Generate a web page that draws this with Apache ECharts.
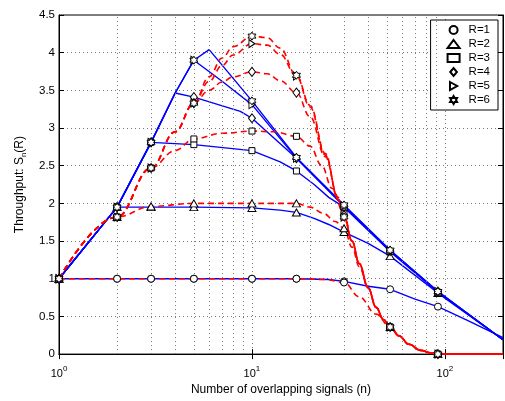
<!DOCTYPE html>
<html><head><meta charset="utf-8">
<script src="https://cdn.jsdelivr.net/npm/echarts@6/dist/echarts.min.js"></script>
<style>html,body{margin:0;padding:0;background:#fff}#c{width:505px;height:401px}</style>
</head><body><div id="c"></div>
<script>
// ---- data ----
const seriesNames = ['R=1','R=2','R=3','R=4','R=5','R=6'];
const markerN = [1,2,3,5,10,17,30,52,92];
const minorXTicks = [2,3,4,5,6,7,8,9,20,30,40,50,60,70,80,90];

const blueR1 = [[1,1],[2,1],[3,1],[5,1],[10,1],[17,1],[25,0.99],[30,0.965],[40,0.90],[52,0.86],[70,0.73],[92,0.63],[130,0.45],[200,0.22]];
const blueR2 = [[1,1],[2,1.95],[3,1.95],[5,1.95],[10,1.94],[14,1.91],[17,1.88],[21,1.80],[25,1.72],[30,1.62],[40,1.47],[52,1.30],[92,0.81],[200,0.19]];
const blueR3 = [[1,1],[2,1.95],[3,2.81],[5,2.78],[10,2.70],[14,2.55],[17,2.43],[21,2.25],[25,2.08],[30,1.95],[52,1.36],[92,0.82],[200,0.19]];
const blueR4 = [[1,1],[2,1.95],[3,2.81],[4,3.465],[5,3.41],[8.7,3.22],[10,3.13],[17,2.60],[30,1.96],[52,1.37],[92,0.83],[200,0.19]];
const blueR5 = [[1,1],[2,1.95],[3,2.81],[4,3.465],[5,3.90],[7,3.62],[10,3.31],[17,2.60],[30,1.97],[52,1.37],[92,0.83],[200,0.19]];
const blueR6 = [[1,1],[2,1.95],[3,2.81],[4,3.465],[5,3.90],[6,4.04],[10,3.36],[17,2.61],[30,1.98],[52,1.38],[92,0.83],[200,0.19]];

const redR1 = [[1,1],[2,1],[3,1],[5,1],[10,1],[17,1],[24,0.99],[30,0.95],[36,0.76],[44,0.53],[52,0.36],[58,0.24],[65,0.13],[75,0.05],[85,0.015],[92,0],[200,0]];
const redR2 = [[1,1],[2,1.82],[3,1.96],[5,2.0],[10,2.0],[17,2.0],[20,1.95],[23.4,1.87],[27,1.76],[30,1.67],[33,1.42],[36,1.16],[40,0.88],[44,0.62],[48,0.46],[52,0.36],[58,0.24],[65,0.13],[75,0.05],[85,0.015],[92,0],[200,0]];
const redR3 = [[1,1],[2,1.82],[3,2.47],[4,2.7],[5,2.855],[7,2.93],[10,2.96],[13,2.95],[17,2.89],[20,2.76],[23,2.5],[26,2.2],[30,1.86],[33,1.5],[36,1.2],[40,0.88],[44,0.62],[48,0.46],[52,0.36],[58,0.24],[65,0.13],[75,0.05],[85,0.015],[92,0],[200,0]];
const redR4 = [[1,1],[2,1.82],[3,2.47],[4,2.95],[5,3.33],[6,3.5],[7,3.61],[8,3.68],[10,3.745],[12,3.72],[14,3.63],[17,3.47],[20,3.15],[24,2.62],[28,2.08],[30,1.84],[33,1.5],[36,1.2],[40,0.88],[44,0.62],[48,0.46],[52,0.36],[58,0.24],[65,0.13],[75,0.05],[85,0.015],[92,0],[200,0]];
const redR5 = [[1,1],[2,1.82],[3,2.47],[4,2.95],[5,3.33],[6,3.62],[7,3.83],[8,3.97],[10,4.12],[12,4.1],[14,3.98],[17,3.69],[20,3.28],[24,2.64],[28,2.05],[30,1.82],[33,1.5],[36,1.2],[40,0.88],[44,0.62],[48,0.46],[52,0.36],[58,0.24],[65,0.13],[75,0.05],[85,0.015],[92,0],[200,0]];
const redR6 = [[1,1],[2,1.82],[3,2.47],[4,2.95],[5,3.33],[6,3.68],[7,3.93],[8,4.08],[10,4.22],[12,4.2],[14,4.06],[17,3.70],[20,3.30],[24,2.66],[28,2.05],[30,1.82],[33,1.5],[36,1.2],[40,0.88],[44,0.62],[48,0.46],[52,0.36],[58,0.24],[65,0.13],[75,0.05],[85,0.015],[92,0],[200,0]];

const blueCurves = [blueR1,blueR2,blueR3,blueR4,blueR5,blueR6];
const redCurves = [redR1,redR2,redR3,redR4,redR5,redR6];

// ---- styling ----
function hexagramPath(){
  const pts=[];
  for(let k=0;k<12;k++){
    const a=Math.PI/2 + k*Math.PI/6;
    const r=(k%2===0)?10:5.77;
    pts.push((10+r*Math.cos(a)).toFixed(2)+','+(10-r*Math.sin(a)).toFixed(2));
  }
  return 'path://M'+pts.join(' L')+' Z';
}
const symbols = [
  {s:'circle', size:7},
  {s:'triangle', size:[8,7]},
  {s:'rect', size:6},
  {s:'path://M0,6 L5,0 L10,6 L5,12 Z', size:[7,9]},
  {s:'path://M0,0 L9,5 L0,10 Z', size:[6,8]},
  {s:hexagramPath(), size:8}
];
const FONT = 'Liberation Sans, Arial, sans-serif';
const gridDot = {color:'#777', type:[1,3], width:1};

const series = [];
blueCurves.forEach(d=>series.push({type:'line', data:d, symbol:'none', silent:true,
  lineStyle:{color:'#0000ff', width:1.4}, z:2}));
redCurves.forEach(d=>series.push({type:'line', data:d, symbol:'none', silent:true, smooth:0.4, smoothMonotone:'x',
  lineStyle:{color:'#ff0000', width:1.6, type:[6,4]}, z:3}));
// minor grid lines of the log axis
series.push({type:'line', data:[], symbol:'none', silent:true,
  markLine:{silent:true, symbol:'none', label:{show:false}, lineStyle:gridDot, animation:false,
    data:minorXTicks.map(v=>({xAxis:v}))}});
// markers (on both models) per R
seriesNames.forEach((name,i)=>{
  const pts=[];
  [blueCurves[i],redCurves[i]].forEach(c=>c.forEach(p=>{ if(markerN.indexOf(p[0])>=0) pts.push(p); }));
  series.push({type:'scatter', name:name, data:pts, symbol:symbols[i].s, symbolSize:symbols[i].size,
    itemStyle:{color:'#ffffff', borderColor:'#000', borderWidth:1, opacity:1}, z:5});
});

const chart = echarts.init(document.getElementById('c'), null, {renderer:'canvas'});
chart.setOption({
  animation:false,
  backgroundColor:'#fff',
  textStyle:{fontFamily:FONT},
  grid:{left:59, right:2, top:15, bottom:36, show:true, borderColor:'#000', borderWidth:1, backgroundColor:'transparent'},
  legend:{data:seriesNames, orient:'vertical', right:7, top:20, backgroundColor:'#fff', borderColor:'#000', borderWidth:1,
    padding:[3,8,3,16], itemGap:0, itemWidth:12, itemHeight:8, align:'left',
    textStyle:{fontFamily:FONT, fontSize:11.5, lineHeight:14, color:'#000', padding:[0,0,0,4]}},
  xAxis:[{type:'log', logBase:10, min:1, max:200, position:'bottom',
    name:'Number of overlapping signals (n)', nameLocation:'middle', nameGap:29,
    nameTextStyle:{fontFamily:FONT, fontSize:12, color:'#000'},
    axisLine:{lineStyle:{color:'#000'}}, axisTick:{inside:true, length:5, lineStyle:{color:'#000'}},
    splitLine:{show:true, lineStyle:gridDot},
    axisLabel:{color:'#000', margin:11, showMaxLabel:false,
      formatter:v=>'{b|10}{s|'+Math.round(Math.log10(v))+'}',
      rich:{b:{fontFamily:FONT, fontSize:11, color:'#000'}, s:{fontFamily:FONT, fontSize:8, color:'#000', padding:[0,0,9,0]}}}},
   {type:'log', logBase:10, min:1, max:200, position:'top', axisLine:{lineStyle:{color:'#000'}},
    axisTick:{inside:true, length:5, lineStyle:{color:'#000'}}, axisLabel:{show:false}, splitLine:{show:false}}],
  yAxis:[{type:'value', min:0, max:4.5, interval:0.5, position:'left',
    name:'{a|Throughput: S}{s|n}{a|(R)}', nameLocation:'middle', nameGap:19, nameRotate:90,
    nameTextStyle:{rich:{a:{fontFamily:FONT, fontSize:12, color:'#000'}, s:{fontFamily:FONT, fontSize:8, color:'#000', padding:[8,0,0,0]}}},
    axisLine:{lineStyle:{color:'#000'}}, axisTick:{inside:true, length:5, lineStyle:{color:'#000'}},
    splitLine:{show:true, lineStyle:gridDot},
    axisLabel:{color:'#000', fontFamily:FONT, fontSize:11.5, margin:4}},
   {type:'value', min:0, max:4.5, interval:0.5, position:'right', axisLine:{show:true, lineStyle:{color:'#000'}},
    axisTick:{show:true, inside:true, length:5, lineStyle:{color:'#000'}}, axisLabel:{show:false}, splitLine:{show:false}}],
  series:series
});
</script></body></html>
